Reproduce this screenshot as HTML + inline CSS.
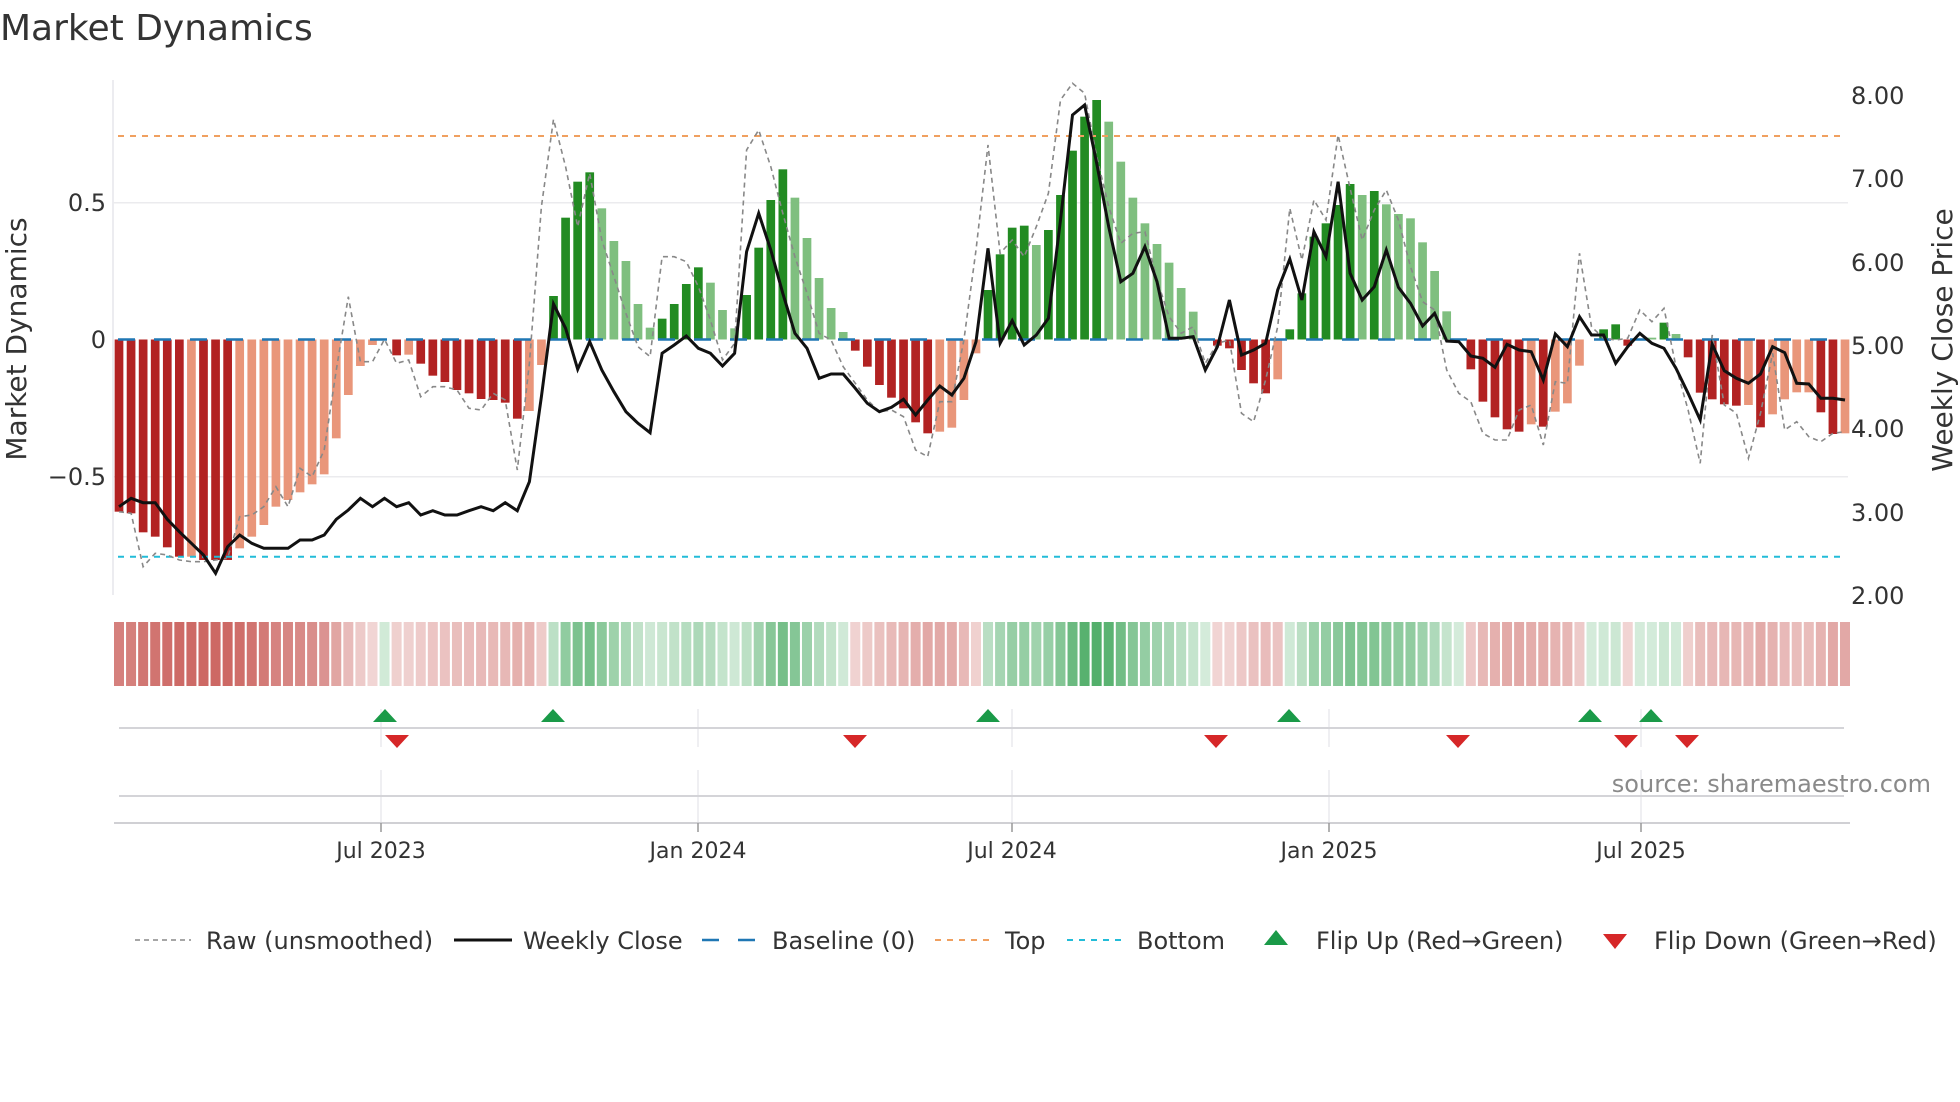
<!DOCTYPE html>
<html><head><meta charset="utf-8"><style>
html,body{margin:0;padding:0;background:#fff;}
svg{display:block;font-family:"DejaVu Sans","Liberation Sans",sans-serif;}
</style></head><body>
<svg id="s" width="1960" height="1102" viewBox="0 0 1960 1102" xmlns="http://www.w3.org/2000/svg">
<text x="0" y="40" font-size="36" fill="#333">Market Dynamics</text>
<line x1="113" y1="80" x2="113" y2="595" stroke="#e6e6ec" stroke-width="1.5"/>
<line x1="113" y1="202.7" x2="1848" y2="202.7" stroke="#ebebee" stroke-width="1.5"/>
<line x1="113" y1="476.7" x2="1848" y2="476.7" stroke="#ebebee" stroke-width="1.5"/>
<g id="bars"></g>
<g id="heat"></g>
<line x1="118" y1="339.5" x2="1845" y2="339.5" stroke="#1f77b4" stroke-width="2.5" stroke-dasharray="17,19"/>
<line x1="118" y1="136" x2="1845" y2="136" stroke="#f0a060" stroke-width="2" stroke-dasharray="6,6"/>
<line x1="118" y1="556.7" x2="1845" y2="556.7" stroke="#22bcd8" stroke-width="2" stroke-dasharray="6,6"/>
<polyline id="raw" fill="none" stroke="#888" stroke-width="1.6" stroke-dasharray="5,4"/>
<polyline id="close" fill="none" stroke="#111" stroke-width="3"/>
<g font-size="24" fill="#333" text-anchor="end">
<text x="106" y="211">0.5</text>
<text x="106" y="348">0</text>
<text x="106" y="485">−0.5</text>
</g>
<g font-size="24" fill="#333">
<text x="1851" y="104">8.00</text>
<text x="1851" y="187">7.00</text>
<text x="1851" y="271">6.00</text>
<text x="1851" y="354">5.00</text>
<text x="1851" y="437">4.00</text>
<text x="1851" y="521">3.00</text>
<text x="1851" y="604">2.00</text>
</g>
<text transform="translate(26,339) rotate(-90)" font-size="28" fill="#333" text-anchor="middle">Market Dynamics</text>
<text transform="translate(1952,340) rotate(-90)" font-size="28" fill="#333" text-anchor="middle">Weekly Close Price</text>
<g stroke="#e4e4ea" stroke-width="1.2">
<line x1="381" y1="709" x2="381" y2="747"/><line x1="698" y1="709" x2="698" y2="747"/><line x1="1012" y1="709" x2="1012" y2="747"/><line x1="1329" y1="709" x2="1329" y2="747"/><line x1="1641" y1="709" x2="1641" y2="747"/>
<line x1="381" y1="770" x2="381" y2="823"/><line x1="698" y1="770" x2="698" y2="823"/><line x1="1012" y1="770" x2="1012" y2="823"/><line x1="1329" y1="770" x2="1329" y2="823"/><line x1="1641" y1="770" x2="1641" y2="823"/>
</g>
<line x1="119" y1="728" x2="1844" y2="728" stroke="#d4d4d8" stroke-width="2"/>
<line x1="119" y1="796" x2="1844" y2="796" stroke="#d4d4d8" stroke-width="2"/>
<line x1="114" y1="823" x2="1850" y2="823" stroke="#d0d0d4" stroke-width="2"/>
<g stroke="#999" stroke-width="1.5">
<line x1="381" y1="823" x2="381" y2="832"/><line x1="698" y1="823" x2="698" y2="832"/><line x1="1012" y1="823" x2="1012" y2="832"/><line x1="1329" y1="823" x2="1329" y2="832"/><line x1="1641" y1="823" x2="1641" y2="832"/>
</g>
<g id="marks"></g>
<g font-size="22" fill="#333" text-anchor="middle">
<text x="381" y="858">Jul 2023</text>
<text x="698" y="858">Jan 2024</text>
<text x="1012" y="858">Jul 2024</text>
<text x="1329" y="858">Jan 2025</text>
<text x="1641" y="858">Jul 2025</text>
</g>
<text x="1931" y="792" font-size="24" fill="#8a8a8a" text-anchor="end">source: sharemaestro.com</text>
<g font-size="24" fill="#333">
<line x1="135" y1="940" x2="191" y2="940" stroke="#888" stroke-width="1.6" stroke-dasharray="5,4"/>
<text x="206" y="949">Raw (unsmoothed)</text>
<line x1="454" y1="940" x2="512" y2="940" stroke="#111" stroke-width="3"/>
<text x="523" y="949">Weekly Close</text>
<line x1="702" y1="940" x2="757" y2="940" stroke="#1f77b4" stroke-width="2.5" stroke-dasharray="17,19"/>
<text x="772" y="949">Baseline (0)</text>
<line x1="935" y1="940" x2="990" y2="940" stroke="#f0a060" stroke-width="2" stroke-dasharray="6,6"/>
<text x="1005" y="949">Top</text>
<line x1="1067" y1="940" x2="1122" y2="940" stroke="#22bcd8" stroke-width="2" stroke-dasharray="6,6"/>
<text x="1137" y="949">Bottom</text>
<polygon points="1264,945 1288,945 1276,930" fill="#1a9a48"/>
<text x="1316" y="949">Flip Up (Red→Green)</text>
<polygon points="1603,934 1627,934 1615,949" fill="#d62728"/>
<text x="1654" y="949">Flip Down (Green→Red)</text>
</g>
</svg>
<script>
(function(){
var NS="http://www.w3.org/2000/svg";
function el(parent,tag,attrs){var e=document.createElementNS(NS,tag);for(var k in attrs){e.setAttribute(k,attrs[k]);}parent.appendChild(e);return e;}
var T="D1295,D1300,D1357,D1370,D1402,D1430,L1430,D1440,D1440,D1440,L1405,L1370,L1335,L1280,L1260,L1237,L1213,L1183,L1075,L945,L858,L795,N776,D826,L824,D851,D887,D906,D930,D940,D957,D960,D968,D1016,L993,L855,G648,"+
"G413,G305,G277,g385,g483,g543,g672,g743,G716,G672,G612,G562,g608,g690,g745,G645,G503,G360,G268,g353,g474,g594,g684,g756,D812,D860,D915,D953,D985,D1027,D1060,L1055,L1043,L960,L820,G630,"+
"G523,G443,G437,g495,G450,G345,G212,G110,G60,g125,g245,g353,g430,g492,g548,g624,g695,N776,D797,D805,D870,D910,D940,L898,G748,G640,G470,G430,G375,G312,g345,G333,g373,g402,g415,g487,g573,"+
"g694,N776,D868,D965,D1012,D1048,D1055,L1033,D1040,L995,L970,L857,N776,G748,G733,D797,N776,g773,G728,g762,D832,D938,D958,D973,D977,L975,D1042,L1003,L958,L937,L937,D997,D1062,L1060";
var C=[1280,1255,1268,1268,1318,1355,1390,1425,1480,1400,1365,1390,1405,1405,1405,1380,1380,1365,1318,1290,1255,1280,1255,1280,1268,1305,1292,1305,1305,1292,1280,1292,1268,1292,1205,950,672,
745,868,785,870,935,995,1030,1058,820,795,768,805,820,858,820,515,400,510,640,760,805,895,882,882,925,970,995,982,958,1005,960,918,945,895,785,505,
790,722,795,765,715,420,105,75,250,440,605,580,500,605,775,775,770,870,800,660,825,810,790,630,537,660,455,530,305,580,660,620,510,622,670,738,700,
783,785,828,835,862,793,810,815,900,762,800,710,765,765,850,800,760,790,805,865,940,1020,793,872,895,910,882,800,818,910,912,955,955,960];
var R=[1295,1300,1460,1420,1425,1440,1445,1445,1440,1435,1310,1305,1280,1220,1280,1165,1190,1110,870,650,845,845,778,850,840,950,920,920,930,985,990,940,960,1170,850,380,118,
260,440,280,480,590,700,800,830,530,530,545,620,720,840,790,210,150,260,400,530,640,760,780,860,910,960,995,990,1010,1110,1130,965,965,780,510,195,
520,480,530,440,340,60,10,40,230,380,490,460,455,600,710,760,740,850,790,780,1000,1025,900,740,385,540,360,420,165,325,480,390,330,420,560,665,690,
870,940,965,1060,1080,1080,990,975,1095,905,910,520,740,775,780,775,690,725,685,860,990,1150,765,975,1000,1135,1000,820,1050,1025,1070,1085,1060,1055];
var items=T.split(","),n=items.length,P=(1845-119)/(n-1);
var col={D:"#b22222",L:"#e9967a",G:"#228b22",g:"#7fbf7f"};
var bars=document.getElementById("bars"),heat=document.getElementById("heat");
var cp=[],rp=[];
for(var i=0;i<n;i++){
 var t=items[i].charAt(0),zy=parseFloat(items[i].substring(1)),x=119+i*P,y=80+zy/3,z=339.5;
 var v=(776-zy)/816; if(i==22)v=0.02;
 if(t!="N"){el(bars,"rect",{x:(x-4.35).toFixed(2),y:Math.min(y,z).toFixed(2),width:"8.7",height:Math.max(0.5,Math.abs(y-z)).toFixed(2),fill:col[t]});}
 var a=0.2+0.6*Math.min(1,Math.abs(v)/0.85),rgb=v<0?[190,60,55]:[40,155,70];
 var c=[];for(var k=0;k<3;k++)c.push(Math.round(255-(255-rgb[k])*a));
 el(heat,"rect",{x:(x-5).toFixed(2),y:"622",width:"10",height:"64",fill:"rgb("+c.join(",")+")"});
 if(i<C.length)cp.push(x.toFixed(1)+","+(80+C[i]/3).toFixed(1));
 if(i<R.length)rp.push(x.toFixed(1)+","+(80+R[i]/3).toFixed(1));
}
document.getElementById("close").setAttribute("points",cp.join(" "));
document.getElementById("raw").setAttribute("points",rp.join(" "));
var marks=document.getElementById("marks");
var ups=[385,553,988,1289,1590,1651],dns=[397,855,1216,1458,1626,1687];
for(var j=0;j<ups.length;j++){var u=ups[j];el(marks,"polygon",{points:(u-12)+",722 "+(u+12)+",722 "+u+",709",fill:"#1a9a48"});}
for(var j2=0;j2<dns.length;j2++){var d=dns[j2];el(marks,"polygon",{points:(d-12)+",735 "+(d+12)+",735 "+d+",748",fill:"#d62728"});}
})();
</script>
</body></html>
